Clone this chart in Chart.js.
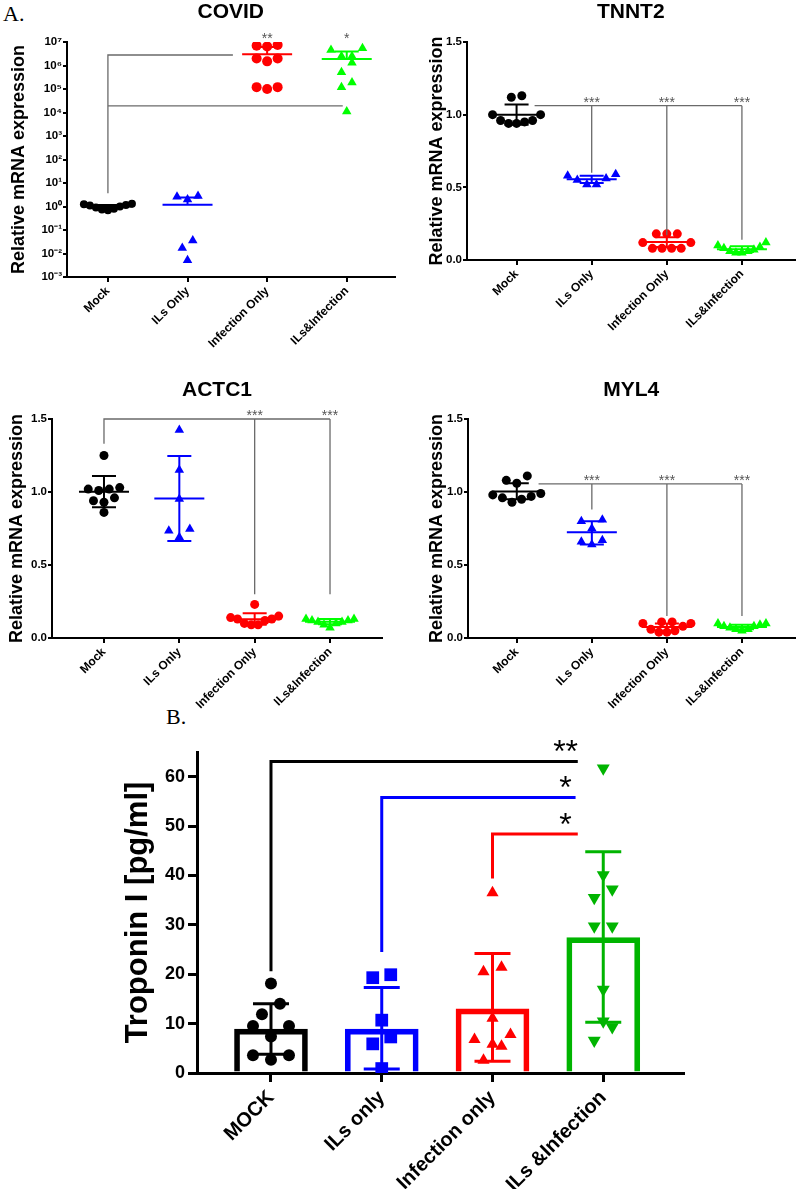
<!DOCTYPE html>
<html>
<head>
<meta charset="utf-8">
<script src="https://cdn.jsdelivr.net/npm/chart.js@4.4.1/dist/chart.umd.min.js"></script>
<style>
body { margin: 0; background: #fff; width: 800px; height: 1189px; position: relative; overflow: hidden; }
canvas { position: absolute; }
.tag { position: absolute; font-family: 'Liberation Serif', 'Times New Roman', serif; font-size: 22px; color: #000; }
</style>
</head>
<body>
<div class="tag" style="left:3px;top:1px">A.</div>
<div class="tag" style="left:166px;top:704px">B.</div>
<canvas id="covid" width="400" height="350" style="left:0;top:0"></canvas>
<canvas id="tnnt2" width="400" height="350" style="left:400px;top:0"></canvas>
<canvas id="actc1" width="400" height="350" style="left:0;top:370px"></canvas>
<canvas id="myl4" width="400" height="350" style="left:400px;top:370px"></canvas>
<canvas id="trop" width="700" height="489" style="left:100px;top:700px"></canvas>
<script>
// groups
const groups = ['Mock', 'ILs Only', 'Infection Only', 'ILs&Infection'];
const groupsB = ['MOCK', 'ILs only', 'Infection only', 'ILs &Infection'];

// COVID (log scale)
const covidMock = [1.3, 1.25, 1.15, 1.0, 0.9, 0.8, 0.75, 0.7, 1.1];
const covidIls = [2.8, 2.0, 2.6, 0.036, 0.017, 0.0052];
const covidInf = [7.5e6, 6.5e6, 7.0e6, 2.0e6, 1.5e6, 2.0e6, 1.2e5, 1.0e5, 1.2e5];
const covidBoth = [4.6e6, 5.4e6, 2.5e6, 2.5e6, 1.3e6, 5.2e5, 1.9e5, 1.2e5, 1.1e4];
const covidMean = [1.0, 1.2, 3.0e6, 1.9e6];
const covidHi = [1.15, 2.4, 6.1e6, 3.9e6];
const covidLo = [0.87, null, null, null];
const covidTicks = [1e-3, 1e-2, 1e-1, 1, 1e1, 1e2, 1e3, 1e4, 1e5, 1e6, 1e7];

// TNNT2
const tnnt2Mock = [1.13, 1.12, 1.0, 1.0, 0.96, 0.95, 0.94, 0.94, 0.96];
const tnnt2Ils = [0.58, 0.59, 0.55, 0.52, 0.52, 0.56];
const tnnt2Inf = [0.18, 0.18, 0.18, 0.12, 0.12, 0.08, 0.08, 0.08, 0.08];
const tnnt2Both = [0.12, 0.10, 0.09, 0.08, 0.07, 0.06, 0.05, 0.05, 0.06];
const tnnt2Mean = [1.0, 0.555, 0.124, 0.074];
const tnnt2Hi = [1.07, 0.58, 0.156, 0.095];
const tnnt2Lo = [0.93, 0.53, 0.09, 0.055];

// ACTC1
const actc1Mock = [1.25, 1.03, 1.02, 1.02, 1.01, 0.96, 0.94, 0.93, 0.86];
const actc1Ils = [1.425, 1.15, 0.952, 0.747, 0.735, 0.69];
const actc1Inf = [0.23, 0.15, 0.14, 0.13, 0.13, 0.12, 0.10, 0.09, 0.09];
const actc1Both = [0.13, 0.13, 0.12, 0.12, 0.11, 0.11, 0.10, 0.09, 0.07];
const actc1Mean = [1.002, 0.955, 0.128, 0.112];
const actc1Hi = [1.11, 1.247, 0.17, 0.13];
const actc1Lo = [0.895, 0.664, 0.09, 0.095];

// MYL4
const myl4Mock = [1.11, 1.08, 1.06, 0.99, 0.98, 0.97, 0.96, 0.95, 0.93];
const myl4Ils = [0.80, 0.81, 0.75, 0.67, 0.66, 0.64];
const myl4Inf = [0.11, 0.11, 0.10, 0.10, 0.08, 0.06, 0.05, 0.04, 0.04];
const myl4Both = [0.10, 0.10, 0.09, 0.08, 0.08, 0.07, 0.06, 0.06, 0.05];
const myl4Mean = [1.003, 0.724, 0.075, 0.075];
const myl4Hi = [1.06, 0.80, 0.10, 0.09];
const myl4Lo = [0.95, 0.64, 0.05, 0.06];

const fracTicks = [0, 0.5, 1.0, 1.5];

// Troponin I (panel B)
const tropMock = [18.1, 14.0, 11.9, 9.5, 9.5, 7.4, 3.6, 3.6, 2.7];
const tropIls = [19.9, 19.3, 10.7, 7.3, 5.9, 0.9];
const tropInf = [36.5, 21.4, 20.5, 11.1, 7.8, 6.8, 5.8, 5.4, 2.6];
const tropBoth = [61.7, 40.1, 37.2, 35.5, 29.7, 29.7, 16.9, 10.5, 9.3, 6.6];
const tropMean = [8.9, 8.9, 13.0, 27.4];
const tropHi = [14.0, 17.3, 24.2, 44.8];
const tropLo = [3.8, 0.8, 2.4, 10.3];
const tropTicks = [0, 10, 20, 30, 40, 50, 60];

// significance brackets: [group x, value] paths
const covidBrackets = [[[0, 3.7], [0, 2.8e6], [1.57, 2.8e6]], [[0, 1.9e4], [2.95, 1.9e4]]];
const covidStars = [[2, 1e7, '**'], [3, 1e7, '*']];
const tnnt2Brackets = [[[0.24, 1.062], [3, 1.062]], [[1, 1.062], [1, 0.60]], [[2, 1.062], [2, 0.17]], [[3, 1.062], [3, 0.14]]];
const tnnt2Stars = [[1, 1.062, '***'], [2, 1.062, '***'], [3, 1.062, '***']];
const actc1Brackets = [[[0, 1.33], [0, 1.5], [3, 1.5]], [[2, 1.5], [2, 0.3]], [[3, 1.5], [3, 0.3]]];
const actc1Stars = [[2, 1.5, '***'], [3, 1.5, '***']];
const myl4Brackets = [[[0.29, 1.055], [3, 1.055]], [[1, 1.055], [1, 0.88]], [[2, 1.055], [2, 0.15]], [[3, 1.055], [3, 0.15]]];
const myl4Stars = [[1, 1.055, '***'], [2, 1.055, '***'], [3, 1.055, '***']];
const tropBrackets = [[[0, 20.6], [0, 63.1], [2.77, 63.1]], [[1, 24.5], [1, 55.8], [2.75, 55.8]], [[2, 39.4], [2, 48.4], [2.77, 48.4]]];
const tropStars = [[2.66, 63.1, '**'], [2.66, 55.8, '*'], [2.66, 48.4, '*']];

const FONT = "'Liberation Sans', Arial, sans-serif";
const BLACK = '#000000', BLUE = '#0000ff', RED = '#ff0000', LIME = '#00ff00', GREEN = '#00b400', GREY = '#6a6a6a';
const topColors = [BLACK, BLUE, RED, LIME];
const bColors = [BLACK, BLUE, RED, GREEN];

Chart.defaults.font.family = FONT;
Chart.defaults.color = '#000';

const SUP = { '-': '\u207B', '0': '\u2070', '1': '\u00B9', '2': '\u00B2', '3': '\u00B3', '4': '\u2074', '5': '\u2075', '6': '\u2076', '7': '\u2077', '8': '\u2078', '9': '\u2079' };
function powerLabel(v) {
    const e = String(Math.round(Math.log10(v)));
    return '10' + e.split('').map(c => SUP[c]).join('');
}

// mean line + error whiskers
function statsPlugin(s) {
    return {
        id: 'stats',
        afterDatasetsDraw(chart) {
            const { ctx, scales: { x, y } } = chart;
            ctx.save();
            ctx.lineWidth = s.width;
            s.means.forEach((m, i) => {
                const cx = x.getPixelForValue(i);
                ctx.strokeStyle = s.colors[i];
                ctx.beginPath();
                if (s.meanHalf) {
                    const py = y.getPixelForValue(m);
                    ctx.moveTo(cx - s.meanHalf, py);
                    ctx.lineTo(cx + s.meanHalf, py);
                }
                const top = s.hi[i] != null ? s.hi[i] : m;
                const bot = s.lo[i] != null ? s.lo[i] : m;
                ctx.moveTo(cx, y.getPixelForValue(top));
                ctx.lineTo(cx, y.getPixelForValue(bot));
                [s.hi[i], s.lo[i]].forEach(v => {
                    if (v == null) return;
                    const py = y.getPixelForValue(v);
                    ctx.moveTo(cx - s.capHalf, py);
                    ctx.lineTo(cx + s.capHalf, py);
                });
                ctx.stroke();
            });
            ctx.restore();
        }
    };
}

function bracketPlugin(b) {
    return {
        id: 'brackets',
        afterDatasetsDraw(chart) {
            const { ctx, scales: { x, y } } = chart;
            ctx.save();
            ctx.lineWidth = b.width;
            b.paths.forEach((path, k) => {
                ctx.strokeStyle = b.colors ? b.colors[k] : b.color;
                ctx.beginPath();
                path.forEach(([vx, vy], j) => {
                    const px = x.getPixelForValue(vx), py = y.getPixelForValue(vy);
                    if (j) ctx.lineTo(px, py); else ctx.moveTo(px, py);
                });
                ctx.stroke();
            });
            ctx.fillStyle = b.starColor;
            ctx.font = b.starFont;
            ctx.textAlign = 'center';
            ctx.textBaseline = 'alphabetic';
            b.stars.forEach(([vx, vy, txt]) => {
                ctx.fillText(txt, x.getPixelForValue(vx), y.getPixelForValue(vy) + b.starDrop);
            });
            ctx.restore();
        }
    };
}

// spread points of a column sideways, row by row (lowest value in the middle)
function swarm(chart, gap, maxSpan) {
    const xs = chart.scales.x, ys = chart.scales.y;
    const unit = xs.getPixelForValue(1) - xs.getPixelForValue(0);
    chart.data.datasets.forEach(ds => {
        if (!ds.values) return;
        const r = ds.pointRadius;
        const order = ds.values.map((v, i) => i).sort((a, b) => ds.values[a] - ds.values[b]);
        const rows = [];
        order.forEach(i => {
            const py = ys.getPixelForValue(ds.values[i]);
            const row = rows[rows.length - 1];
            if (row && Math.abs(row.y - py) < 2 * r) row.items.push(i);
            else rows.push({ y: py, items: [i] });
        });
        const off = [];
        rows.forEach(row => {
            const n = row.items.length;
            const step = n > 1 ? Math.min(gap, maxSpan / (n - 1)) : 0;
            const slots = Array.from({ length: n }, (_, j) => (j - (n - 1) / 2) * step)
                .sort((a, b) => Math.abs(a) - Math.abs(b) || a - b);
            row.items.forEach((i, j) => { off[i] = slots[j]; });
        });
        ds.data = ds.values.map((v, i) => ({ x: ds.group + off[i] / unit, y: v }));
    });
    chart.update('none');
}

function makePanel(p) {
    const datasets = p.series.map((vals, i) => ({
        type: 'scatter',
        values: vals,
        group: i,
        data: vals.map(v => ({ x: i, y: v })),
        pointStyle: p.shapes[i],
        rotation: p.rotations ? p.rotations[i] : 0,
        pointRadius: p.radius[i],
        pointHoverRadius: p.radius[i],
        backgroundColor: p.colors[i],
        borderColor: p.colors[i],
        borderWidth: 0,
        order: 0
    }));
    if (p.bars) {
        datasets.push({
            type: 'bar',
            data: p.bars.map((m, i) => ({ x: i, y: m })),
            backgroundColor: 'rgba(255,255,255,0)',
            borderColor: p.colors,
            borderWidth: 5,
            barThickness: 73,
            order: 1
        });
    }
    const tickFont = { family: FONT, size: p.tickSize, weight: 'bold' };
    const chart = new Chart(document.getElementById(p.id), {
        type: 'scatter',
        data: { datasets },
        options: {
            responsive: false,
            animation: false,
            devicePixelRatio: 1,
            layout: { padding: { left: 0, right: p.padRight, top: p.padTop || 0, bottom: 0 } },
            plugins: {
                legend: { display: false },
                tooltip: { enabled: false },
                title: {
                    display: !!p.title,
                    text: p.title,
                    fullSize: false,
                    color: '#000',
                    font: { family: FONT, size: 21, weight: 'bold', lineHeight: 1.2 },
                    padding: p.titlePad
                }
            },
            scales: {
                x: {
                    type: 'linear',
                    offset: false,
                    min: p.xMin,
                    max: p.xMax,
                    afterBuildTicks: s => { s.ticks = p.labels.map((_, i) => ({ value: i })); },
                    afterFit: s => { s.height = p.xHeight; },
                    ticks: {
                        callback: v => p.labels[v],
                        autoSkip: false,
                        minRotation: 45,
                        maxRotation: 45,
                        padding: p.xPad,
                        color: '#000',
                        font: { family: FONT, size: p.xLabelSize, weight: 'bold' }
                    },
                    grid: { offset: false, drawOnChartArea: false, tickLength: p.xTickLen, color: '#000', lineWidth: p.axisWidth },
                    border: { color: '#000', width: p.axisWidth }
                },
                y: {
                    type: p.log ? 'logarithmic' : 'linear',
                    min: p.yMin,
                    max: p.yMax,
                    afterBuildTicks: s => { s.ticks = p.yTicks.map(v => ({ value: v })); },
                    afterFit: s => { s.width = p.yWidth; },
                    ticks: { callback: p.yFormat, padding: p.yPad, color: '#000', font: tickFont },
                    grid: { drawOnChartArea: false, tickLength: p.yTickLen, color: '#000', lineWidth: p.axisWidth },
                    border: { color: '#000', width: p.axisWidth },
                    title: {
                        display: true,
                        text: p.yTitle,
                        color: '#000',
                        font: { family: FONT, size: p.yTitleSize, weight: 'bold', lineHeight: 1.2 },
                        padding: { top: p.yTitlePad, bottom: 0 }
                    }
                }
            }
        },
        plugins: [statsPlugin(p.stats), bracketPlugin(p.brackets)]
    });
    swarm(chart, p.gap, p.maxSpan);
    return chart;
}

const topTitlePad = { top: 0, bottom: 16.8 };
const lowTitlePad = { top: 7.4, bottom: 16.4 };
const fixed1 = v => v.toFixed(1);

function topPanel(id, title, series, stats, brackets, stars, extra) {
    return makePanel(Object.assign({
        id, title,
        labels: groups,
        series,
        shapes: ['circle', 'triangle', 'circle', 'triangle'],
        colors: topColors,
        radius: [4.5, 5.5, 4.5, 5.5],
        yMin: 0, yMax: 1.5, yTicks: fracTicks, yFormat: fixed1,
        yTitle: 'Relative mRNA expression', yTitleSize: 18,
        tickSize: 11.5, xLabelSize: 12, xPad: 2, xTickLen: 5, yTickLen: 4, yPad: 1, axisWidth: 2,
        gap: 10.5, maxSpan: 48,
        stats: { means: stats[0], hi: stats[1], lo: stats[2], colors: topColors, width: 2, meanHalf: 25, capHalf: 12 },
        brackets: { paths: brackets, color: GREY, width: 1.3, stars, starColor: '#555', starFont: '14px ' + FONT, starDrop: 1 }
    }, extra));
}

topPanel('covid', 'COVID', [covidMock, covidIls, covidInf, covidBoth],
    [covidMean, covidHi, covidLo], covidBrackets, covidStars,
    { log: true, yMin: 1e-3, yMax: 1e7, yTicks: covidTicks, yFormat: powerLabel,
      radius: [4, 5.5, 5, 5.5],
      xMin: -0.514, xMax: 3.6, yWidth: 67, xHeight: 73, padRight: 5, titlePad: topTitlePad, yTitlePad: 8 });

topPanel('tnnt2', 'TNNT2', [tnnt2Mock, tnnt2Ils, tnnt2Inf, tnnt2Both],
    [tnnt2Mean, tnnt2Hi, tnnt2Lo], tnnt2Brackets, tnnt2Stars,
    { xMin: -0.66, xMax: 3.70, yWidth: 67, xHeight: 90, padRight: 3, titlePad: topTitlePad, yTitlePad: 26 });

topPanel('actc1', 'ACTC1', [actc1Mock, actc1Ils, actc1Inf, actc1Both],
    [actc1Mean, actc1Hi, actc1Lo], actc1Brackets, actc1Stars,
    { xMin: -0.69, xMax: 3.69, yWidth: 52, xHeight: 82, padRight: 18, titlePad: lowTitlePad, yTitlePad: 6 });

topPanel('myl4', 'MYL4', [myl4Mock, myl4Ils, myl4Inf, myl4Both],
    [myl4Mean, myl4Hi, myl4Lo], myl4Brackets, myl4Stars,
    { xMin: -0.65, xMax: 3.70, yWidth: 68, xHeight: 82, padRight: 3, titlePad: lowTitlePad, yTitlePad: 26 });

makePanel({
    id: 'trop',
    labels: groupsB,
    series: [tropMock, tropIls, tropInf, tropBoth],
    bars: tropMean,
    shapes: ['circle', 'rect', 'triangle', 'triangle'],
    rotations: [0, 0, 0, 180],
    colors: bColors,
    radius: [6, 9, 7, 7.5],
    yMin: 0, yMax: 65, yTicks: tropTicks, yFormat: v => String(v),
    yTitle: 'Troponin I [pg/ml]', yTitleSize: 31, yTitlePad: 20,
    tickSize: 18, xLabelSize: 20, xPad: 4, xTickLen: 9, yTickLen: 9, yPad: 3, axisWidth: 3,
    xMin: -0.668, xMax: 3.72, yWidth: 97, xHeight: 116, padRight: 117, padTop: 52,
    gap: 18, maxSpan: 40,
    stats: { means: tropMean, hi: tropHi, lo: tropLo, colors: bColors, width: 3, meanHalf: 0, capHalf: 18 },
    brackets: { paths: tropBrackets, colors: bColors, width: 3, stars: tropStars, starColor: '#000', starFont: '32px ' + FONT, starDrop: 1 }
});
</script>
</body>
</html>
